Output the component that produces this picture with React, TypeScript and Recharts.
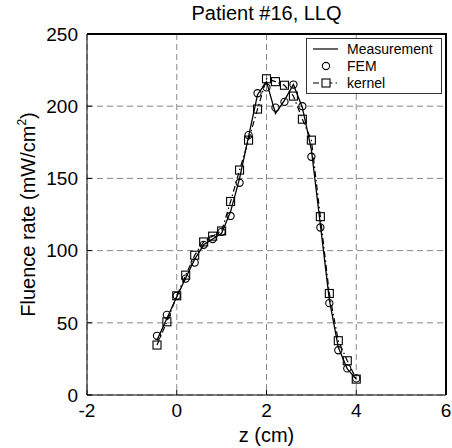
import {
  CartesianGrid,
  ComposedChart,
  Legend,
  Line,
  XAxis,
  YAxis,
} from "recharts";

// depth along the fibre track (cm)
const zValues = [
  -0.44, -0.22, 0, 0.2, 0.4, 0.6, 0.8, 1.0, 1.2, 1.4, 1.6, 1.8, 2.0, 2.2, 2.4,
  2.6, 2.8, 3.0, 3.2, 3.4, 3.6, 3.8, 4.0,
];
const measurement = [
  38, 53, 68, 81, 94, 104, 108, 112, 127, 150, 179, 208, 217, 195, 204, 215,
  199, 170, 118, 66, 33, 18, 11,
];
const fem = [
  41, 55.5, 68.7, 80.6, 91.7, 104, 108, 113, 124, 147, 180, 209, 213, 199, 203,
  215, 200, 165, 116, 63.6, 31, 18.4, 11.5,
];
const kernel = [
  34.6, 50.7, 68.7, 83, 96.8, 106, 110, 113.6, 134, 155.8, 176.5, 198, 219,
  217, 214.5, 207, 191, 176.5, 123.5, 70.3, 37.6, 23.7, 11,
];

const xTicks = [-2, 0, 2, 4, 6];
const yTicks = [0, 50, 100, 150, 200, 250];

const FONT = '"Liberation Sans", Arial, sans-serif';

const W = 452;
const H = 448;
const MARGIN = { top: 34, right: 6, bottom: 0, left: 0 };
const Y_AXIS_W = 87;
const X_AXIS_H = 53;

const chartData = zValues.map((z, i) => ({
  z,
  measurement: measurement[i],
  fem: fem[i],
  kernel: kernel[i],
}));

const LeftTick = ({ x, y, payload }: any) => (
  <g>
    <line x1={x + 9} x2={x + 14} y1={y} y2={y} stroke="#000" />
    <text x={x} y={y} dy="0.36em" textAnchor="end" fontSize={19} fill="#000" fontFamily={FONT}>
      {payload.value}
    </text>
  </g>
);

const BottomTick = ({ x, y, payload }: any) => (
  <g>
    <line x1={x} x2={x} y1={y} y2={y - 5} stroke="#000" />
    <text x={x} y={y} dy={22} textAnchor="middle" fontSize={19} fill="#000" fontFamily={FONT}>
      {payload.value}
    </text>
  </g>
);

const CircleDot = (props: any) => (
  <circle
    key={`c-${props.index}`}
    cx={props.cx}
    cy={props.cy}
    r={3.6}
    fill="none"
    stroke="#000"
    strokeWidth={1.1}
  />
);

const SquareDot = (props: any) => (
  <rect
    key={`s-${props.index}`}
    x={props.cx - 4}
    y={props.cy - 4}
    width={8}
    height={8}
    fill="none"
    stroke="#000"
    strokeWidth={1.1}
  />
);

const LegendBox = () => (
  <div
    style={{
      border: "1px solid #333",
      background: "#fff",
      width: 134,
      height: 54,
      fontFamily: FONT,
      fontSize: 14,
      color: "#000",
      position: "relative",
    }}
  >
    <svg width={134} height={54} style={{ position: "absolute", left: 0, top: 0 }}>
      <line x1={6} x2={31} y1={10} y2={10} stroke="#000" strokeWidth={1.2} />
      <circle cx={19} cy={27} r={3.6} fill="none" stroke="#000" strokeWidth={1.1} />
      <line x1={6} x2={31} y1={44} y2={44} stroke="#000" strokeWidth={1.2} strokeDasharray="6 3 1.5 3" />
      <rect x={15} y={40} width={8} height={8} fill="#fff" stroke="#000" strokeWidth={1.1} />
      <text x={40} y={15} fontSize={14} fontFamily={FONT}>Measurement</text>
      <text x={40} y={32} fontSize={14} fontFamily={FONT}>FEM</text>
      <text x={40} y={49} fontSize={14} fontFamily={FONT}>kernel</text>
    </svg>
  </div>
);

export default function App() {
  const plotLeft = MARGIN.left + Y_AXIS_W;
  const plotTop = MARGIN.top;
  const plotW = W - plotLeft - MARGIN.right;
  const plotH = H - plotTop - MARGIN.bottom - X_AXIS_H;

  return (
    <div style={{ position: "absolute", left: 0, top: 0, width: W, height: H, background: "#fff" }}>
      <div
        style={{
          position: "absolute",
          left: plotLeft,
          width: plotW,
          top: 3,
          lineHeight: "20px",
          fontSize: 20,
          textAlign: "center",
          fontFamily: FONT,
          color: "#000",
        }}
      >
        Patient #16, LLQ
      </div>
      <ComposedChart width={W} height={H} data={chartData} margin={MARGIN}>
        <CartesianGrid stroke="#888" strokeDasharray="6 4" strokeWidth={1} />
        <XAxis
          dataKey="z"
          type="number"
          domain={[-2, 6]}
          ticks={xTicks}
          allowDataOverflow
          height={X_AXIS_H}
          tickSize={0}
          tickMargin={0}
          tickLine={false}
          tick={<BottomTick />}
          axisLine={{ stroke: "#000" }}
          label={(props: any) => {
            const vb = props.viewBox;
            return (
              <text x={vb.x + vb.width / 2} y={442} textAnchor="middle" fontSize={20} fontFamily={FONT} fill="#000">
                z (cm)
              </text>
            );
          }}
        />
        <YAxis
          type="number"
          domain={[0, 250]}
          ticks={yTicks}
          allowDataOverflow
          width={Y_AXIS_W}
          tickSize={0}
          tickMargin={9}
          tickLine={false}
          tick={<LeftTick />}
          axisLine={{ stroke: "#000" }}
          label={(props: any) => {
            const vb = props.viewBox;
            const cy = vb.y + vb.height / 2;
            return (
              <text
                x={35}
                y={cy}
                transform={`rotate(-90, 35, ${cy})`}
                textAnchor="middle"
                fontSize={20}
                fontFamily={FONT}
                fill="#000"
              >
                Fluence rate (mW/cm
                <tspan fontSize={12} dy={-9}>2</tspan>
                <tspan dy={9}>)</tspan>
              </text>
            );
          }}
        />
        <Legend
          verticalAlign="middle"
          align="center"
          layout="horizontal"
          content={<LegendBox />}
          wrapperStyle={{ left: 306, top: 38, width: 136, height: 56 }}
        />
        <Line
          dataKey="measurement"
          stroke="#000"
          strokeWidth={1.3}
          dot={false}
          isAnimationActive={false}
        />
        <Line
          dataKey="fem"
          stroke="none"
          dot={CircleDot}
          activeDot={false}
          isAnimationActive={false}
        />
        <Line
          dataKey="kernel"
          stroke="#000"
          strokeWidth={1.2}
          strokeDasharray="6 3 1.5 3"
          dot={SquareDot}
          activeDot={false}
          isAnimationActive={false}
        />
      </ComposedChart>
      {/* top and right edges of the axes box */}
      <div
        style={{
          position: "absolute",
          left: plotLeft,
          top: plotTop - 1,
          width: plotW + 1,
          height: plotH + 1,
          boxSizing: "border-box",
          borderTop: "2px solid #000",
          borderRight: "2px solid #000",
          pointerEvents: "none",
        }}
      />
    </div>
  );
}
